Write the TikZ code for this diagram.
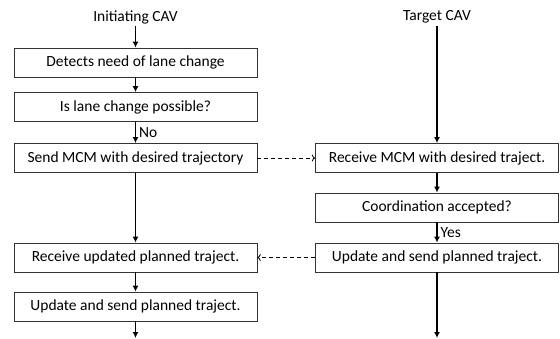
\documentclass[tikz,border=0pt]{standalone}
\usepackage{fontspec}
\setmainfont{Carlito}
\usepackage{tikz}
\usetikzlibrary{calc}
\usetikzlibrary{arrows}
\usetikzlibrary{arrows.meta}
\usetikzlibrary{positioning}
\tikzset{stepbox/.style={draw=black!80,line width=0.8pt,minimum width=243pt,minimum height=29pt,inner sep=2pt,font=\fontsize{15.5}{17}\selectfont}}

\begin{document}
\begin{tikzpicture}[x=1pt,y=-1pt]
\tikzset{flow/.style={line width=1.3pt,-{Latex[length=6pt,width=6pt]}}}
\tikzset{msg/.style={line width=0.8pt,dash pattern=on 4pt off 3pt,->}}
\tikzset{title/.style={font=\fontsize{15.5}{17}\selectfont,inner sep=2pt}}
\useasboundingbox (0,0) rectangle (560,338);

\pgfmathsetmacro{\leftcol}{135.5}
\pgfmathsetmacro{\rightcol}{437}

\node[title] (initcav) at (\leftcol, 17) {Initiating CAV};
\node[stepbox] (detect) at (\leftcol, 62.5) {Detects need of lane change};
\node[stepbox] (possible) at (\leftcol, 107) {Is lane change possible?};
\node[stepbox] (sendmcm) at (\leftcol, 158) {Send MCM with desired trajectory};
\node[stepbox] (recvupd) at (\leftcol, 257.5) {Receive updated planned traject.};
\node[stepbox] (updsendL) at (\leftcol, 306.5) {Update and send planned traject.};
\coordinate (endL) at (\leftcol, 338);

\node[title] (targetcav) at (\rightcol, 17) {Target CAV};
\node[stepbox] (recvmcm) at (\rightcol, 158) {Receive MCM with desired traject.};
\node[stepbox] (accepted) at (\rightcol, 207.5) {Coordination accepted?};
\node[stepbox] (updsendR) at (\rightcol, 257.5) {Update and send planned traject.};
\coordinate (endR) at (\rightcol, 338);

\draw[flow] (initcav) -- (detect);
\draw[flow] (detect) -- (possible);
\draw[flow] (possible) -- node[right, title, xshift=1pt] {No} (sendmcm);
\draw[flow] (sendmcm) -- (recvupd);
\draw[flow] (recvupd) -- (updsendL);
\draw[flow] (updsendL) -- (endL);

\draw[flow] (targetcav) -- (recvmcm);
\draw[flow] (recvmcm) -- (accepted);
\draw[flow] (accepted) -- node[right, title, xshift=1pt] {Yes} (updsendR);
\draw[flow] (updsendR) -- (endR);

\draw[msg] (sendmcm) -- (recvmcm);
\draw[msg] (updsendR) -- (recvupd);
\end{tikzpicture}
\end{document}
